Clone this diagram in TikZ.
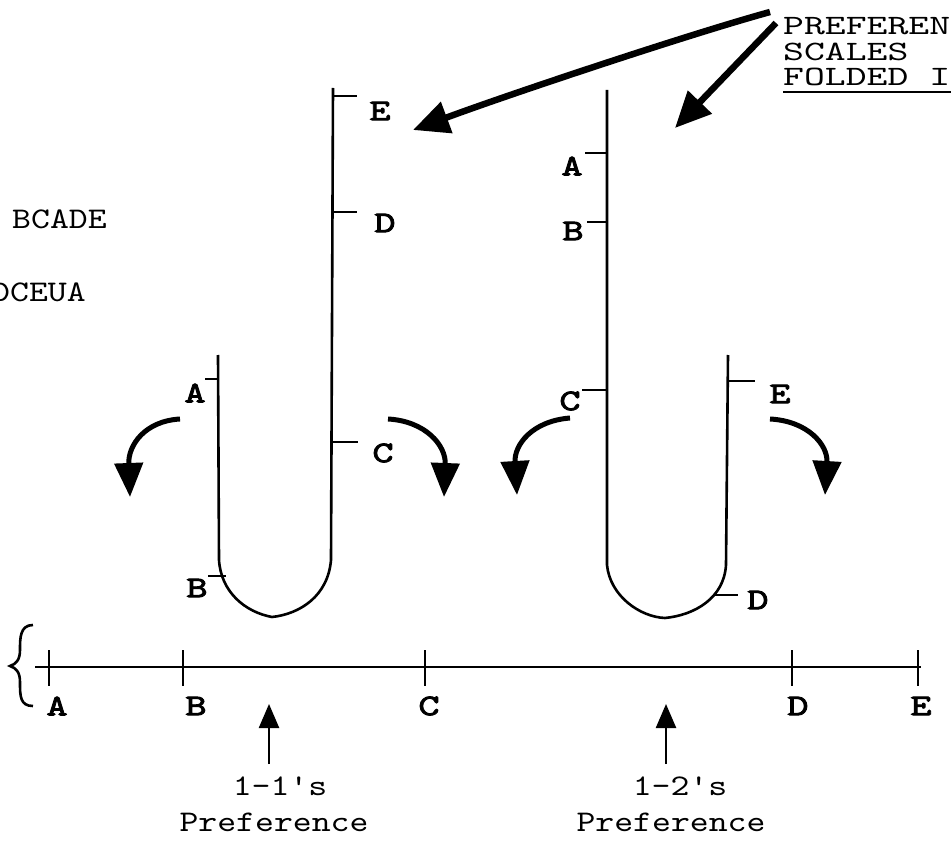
\documentclass[tikz,border=0pt]{standalone}
\usepackage{fontspec}
\newfontfamily\typer{lmmono10-regular}[Extension=.otf, FakeStretch=1.2]
\newfontfamily\typerwide{lmmono10-regular}[Extension=.otf, FakeStretch=1.42]
\newfontfamily\typerbold{lmmono10-regular}[Extension=.otf, FakeStretch=1.35, FakeBold=3]
\usetikzlibrary{arrows.meta}
\tikzset{
  lbl/.style={font=\typerbold\fontsize{30}{30}\selectfont, inner sep=0pt},
  txt/.style={font=\typer\fontsize{30}{30}\selectfont, inner sep=0pt},
  captxt/.style={font=\typerwide\fontsize{28}{28}\selectfont, inner sep=0pt,
    text height=18pt, text depth=0pt},
  scaleline/.style={line width=2.6pt},
  tickline/.style={line width=2pt},
  fold/.style={line width=5pt, -{Triangle[length=34pt,width=28pt]}},
  pointer/.style={line width=6.5pt, -{Triangle[length=36pt,width=32pt]}},
  uparrow/.style={line width=2.4pt, -{Triangle[length=24pt,width=20pt]}},
}
\begin{document}
\begin{tikzpicture}[x=1pt,y=-1pt]
  \useasboundingbox (0,0) rectangle (951,853);
  % orderings at the left edge
  \node[txt, anchor=west] (order1) at (12,219) {BCADE};
  \node[txt, anchor=west] (order2) at (-9,292) {DCEUA};

  % base scale
  \draw[scaleline] (35,667) -- (921,667);
  \draw[scaleline] (33,625) .. controls (20,625) and (20,638) .. (20,650)
        .. controls (20,660) and (16,664) .. (10,666)
        .. controls (16,668) and (20,672) .. (20,682)
        .. controls (20,696) and (20,706) .. (33,706);
  \foreach \x/\lx/\n in {49/57/A, 183/196/B, 425/429/C, 792/798/D, 918/921/E} {
    \draw[tickline] (\x,650) -- (\x,686);
    \node[lbl] (base\n) at (\lx,706) {\n};
  }

  % first folded scale
  \draw[scaleline] (218,355) -- (219,560) .. controls (221,592) and (245,612) .. (272,617)
        .. controls (300,614) and (328,596) .. (331,560) -- (333,88);
  \draw[tickline] (205,379) -- (218,379);
  \node[lbl] (oneA) at (195,393) {A};
  \draw[tickline] (208,576) -- (226,576);
  \node[lbl] (oneB) at (197,588) {B};
  \draw[tickline] (333,442) -- (358,442);
  \node[lbl] (oneC) at (383,453) {C};
  \draw[tickline] (332,212) -- (357,212);
  \node[lbl] (oneD) at (385,223) {D};
  \draw[tickline] (333,96) -- (357,96);
  \node[lbl] (oneE) at (380,111) {E};
  \draw[fold] (180,419) .. controls (145,421) and (128,445) .. (130,497);
  \draw[fold] (388,419) .. controls (425,421) and (446,445) .. (444,497);

  % second folded scale
  \draw[scaleline] (607,90) -- (607,565) .. controls (610,596) and (640,617) .. (665,618)
        .. controls (695,615) and (724,598) .. (726,565) -- (728,355);
  \draw[tickline] (585,153) -- (607,153);
  \node[lbl] (twoA) at (572,166) {A};
  \draw[tickline] (587,222) -- (607,222);
  \node[lbl] (twoB) at (573,231) {B};
  \draw[tickline] (582,390) -- (607,390);
  \node[lbl] (twoC) at (570,401) {C};
  \draw[tickline] (713,595) -- (738,595);
  \node[lbl] (twoD) at (758,600) {D};
  \draw[tickline] (728,381) -- (755,381);
  \node[lbl] (twoE) at (780,394) {E};
  \draw[fold] (570,418) .. controls (532,421) and (514,445) .. (517,495);
  \draw[fold] (770,419) .. controls (808,421) and (828,445) .. (825,495);

  % caption at top right
  \node[captxt, anchor=base west] (capA) at (783,35) {PREFEREN};
  \node[captxt, anchor=base west] (capB) at (783,61) {SCALES};
  \node[captxt, anchor=base west] (capC) at (783,86) {FOLDED I};
  \draw[tickline] (783,92) -- (951,92);
  \coordinate (from1) at (770,12);
  \coordinate (from2) at (776,23);
  \coordinate (to1) at (413,130);
  \coordinate (to2) at (675,128);
  \draw[pointer] (from1) .. controls (690,34) and (510,94) .. (to1);
  \draw[pointer] (from2) -- (to2);

  % preferences
  \node[txt] (pref1) at (280,786) {1-1's};
  \node[txt] (word1) at (274,822) {Preference};
  \node[txt] (pref2) at (680,786) {1-2's};
  \node[txt] (word2) at (671,822) {Preference};
  \coordinate (top1) at (269,704);
  \coordinate (top2) at (666,704);
  \draw[uparrow] (269,764) -- (top1);
  \draw[uparrow] (666,764) -- (top2);
\end{tikzpicture}
\end{document}
